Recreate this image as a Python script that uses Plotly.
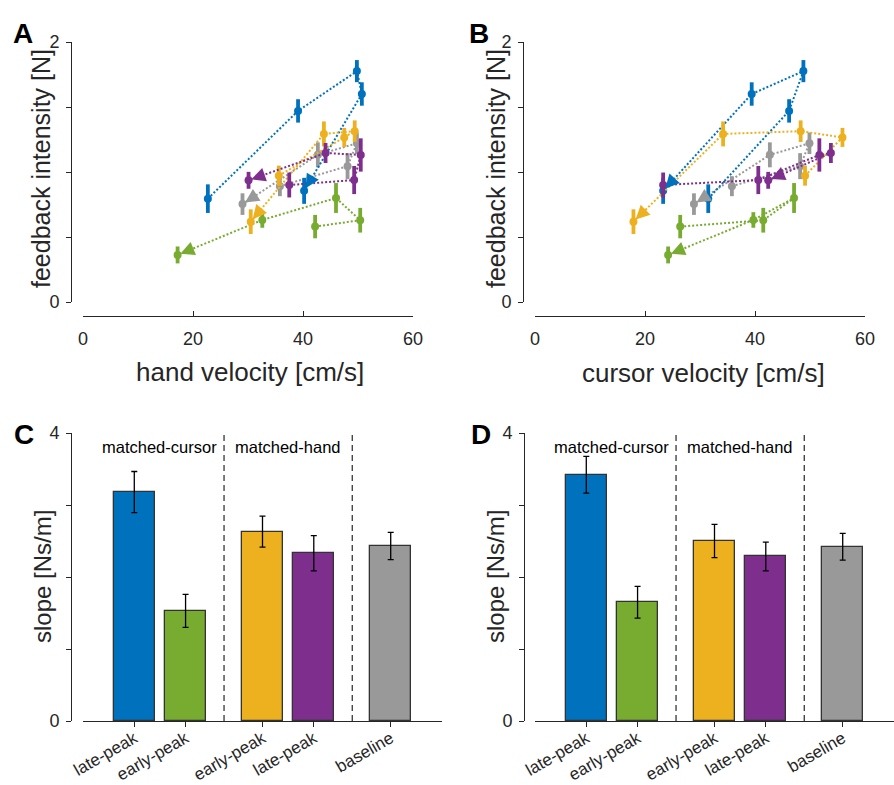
import numpy as np
import plotly.graph_objects as go

W, H = 894, 785
FONT = "Liberation Sans, Arial, Helvetica, sans-serif"
INK = "#262626"

# ---------------- data: trajectories (ordered; arrow into the last point) ----------------
conditions = ["gray", "blue", "green", "yellow", "purple"]
colors = {"blue": "#0072BD", "green": "#77AC30", "yellow": "#EDB120",
          "purple": "#7E2F8E", "gray": "#999999"}

blue_force = [0.795, 1.470, 1.776, 1.600, 0.855]
blue_err = [0.110, 0.090, 0.085, 0.090, 0.100]
blue_hand = [22.7, 39.1, 49.8, 50.7, 40.2]
blue_cursor = [31.5, 46.2, 48.8, 39.4, 23.3]

green_force = [0.580, 0.629, 0.800, 0.631, 0.362]
green_err = [0.090, 0.095, 0.115, 0.060, 0.065]
green_hand = [42.2, 50.4, 46.0, 32.6, 17.2]
green_cursor = [26.4, 41.5, 47.1, 39.7, 24.2]

yellow_force = [0.972, 1.266, 1.314, 1.293, 0.618]
yellow_err = [0.077, 0.073, 0.083, 0.096, 0.095]
yellow_hand = [35.6, 47.5, 49.4, 43.8, 30.5]
yellow_cursor = [49.1, 55.9, 48.3, 34.2, 17.9]

gray_force = [0.891, 1.045, 1.221, 1.132, 0.753]
gray_err = [0.077, 0.100, 0.083, 0.096, 0.083]
gray_hand = [35.8, 48.1, 49.8, 42.7, 29.0]
gray_cursor = [35.8, 48.2, 49.9, 42.7, 28.9]

purple_force = [0.900, 0.938, 1.131, 1.146, 0.936]
purple_err = [0.096, 0.108, 0.128, 0.077, 0.065]
purple_hand = [37.5, 49.3, 50.5, 44.1, 30.1]
purple_cursor = [23.3, 40.6, 51.7, 53.8, 42.4]

traj = {
    "blue": (blue_force, blue_err, blue_hand, blue_cursor),
    "green": (green_force, green_err, green_hand, green_cursor),
    "yellow": (yellow_force, yellow_err, yellow_hand, yellow_cursor),
    "gray": (gray_force, gray_err, gray_hand, gray_cursor),
    "purple": (purple_force, purple_err, purple_hand, purple_cursor),
}

# ---------------- data: slopes ----------------
bar_labels = ["late-peak", "early-peak", "early-peak", "late-peak", "baseline"]
bar_colors = ["blue", "green", "yellow", "purple", "gray"]
slope_hand = [3.18, 1.53, 2.63, 2.33, 2.43]
slope_hand_err = [0.285, 0.230, 0.215, 0.245, 0.190]
slope_cursor = [3.42, 1.65, 2.50, 2.285, 2.42]
slope_cursor_err = [0.255, 0.220, 0.230, 0.200, 0.185]
group_names = ["matched-cursor", "matched-hand"]

# layout of bar slots (grouped with gaps)
bar_slots = [1, 2, 3.5, 4.5, 6]
group_dividers = [2.75, 5.25]
group_label_x = [1.5, 4.0]

# ---------------- geometry helpers (pixels -> paper) ----------------
def fx(p):
    return p / W

def fy(p):
    return 1 - p / H

fig = go.Figure()

axis_common = dict(showgrid=False, zeroline=False, showline=True, linecolor=INK,
                   linewidth=1, tickcolor=INK, tickwidth=1,
                   tickfont=dict(size=18, color=INK, family=FONT))

# scatter panels: (xaxis id, yaxis id, x-pixel left, x-pixel right, yaxis line px)
scatter_panels = [
    ("x", "y", 83, 413, 71),    # A: hand
    ("x2", "y2", 535, 865, 523),  # B: cursor
]
Y_TOP, Y_BOT, X_LINE = 42, 302, 316
XR, YR = (0, 60), (0, 2)

for pi, (xa, ya, xl, xr, yl) in enumerate(scatter_panels):
    sx = (xr - xl) / (XR[1] - XR[0])
    sy = (Y_BOT - Y_TOP) / (YR[1] - YR[0])
    for c in conditions:
        force, err, hand, cursor = traj[c]
        xs = hand if pi == 0 else cursor
        fig.add_trace(go.Scatter(
            x=xs, y=force, xaxis=xa, yaxis=ya, mode="lines+markers",
            line=dict(color=colors[c], width=2, dash="2px,2px"),
            marker=dict(color=colors[c], size=8, symbol="circle"),
            error_y=dict(type="data", array=err, color=colors[c], thickness=3.8, width=0),
            showlegend=False, hoverinfo="skip"))
        # arrowhead into the final point, oriented along last segment in pixel space
        dxp = (xs[-2] - xs[-1]) * sx
        dyp = -(force[-2] - force[-1]) * sy
        n = float(np.hypot(dxp, dyp))
        L = 14
        fig.add_annotation(x=xs[-1], y=force[-1], xref=xa, yref=ya,
                           ax=dxp / n * L, ay=dyp / n * L, axref="pixel", ayref="pixel",
                           showarrow=True, arrowhead=2, arrowsize=1.4, arrowwidth=2,
                           arrowcolor=colors[c], standoff=3, text="")

    xkey = "xaxis" if xa == "x" else "xaxis2"
    ykey = "yaxis" if ya == "y" else "yaxis2"
    fig.update_layout(**{
        xkey: dict(axis_common, domain=[fx(xl), fx(xr)], range=list(XR), anchor="free",
                   position=fy(X_LINE), ticks="inside", ticklen=5,
                   tickvals=[0, 20, 40, 60], ticklabelstandoff=6),
        ykey: dict(axis_common, domain=[fy(Y_BOT), fy(Y_TOP)], range=list(YR), anchor="free",
                   position=fx(yl), ticks="outside", ticklen=5, ticklabelstandoff=3,
                   tickvals=[0, 0.5, 1, 1.5, 2], ticktext=["0", "", "", "", "2"]),
    })

# bar panels
bar_panels = [
    ("x3", "y3", 83, 442, 71, slope_hand, slope_hand_err),
    ("x4", "y4", 535, 894, 524, slope_cursor, slope_cursor_err),
]
B_TOP, B_BOT = 433, 721
for xa, ya, xl, xr, yl, vals, errs in bar_panels:
    fig.add_trace(go.Bar(
        x=bar_slots, y=vals, width=0.8, xaxis=xa, yaxis=ya,
        marker=dict(color=[colors[c] for c in bar_colors], line=dict(color="#333333", width=1.3)),
        error_y=dict(type="data", array=errs, color="black", thickness=1.3, width=3),
        showlegend=False, hoverinfo="skip"))
    n = xa[1:]
    fig.update_layout(**{
        "xaxis" + n: dict(axis_common, domain=[fx(xl), fx(xr)], range=[0, 7], anchor=ya,
                          ticks="outside", ticklen=5, tickvals=bar_slots, ticktext=bar_labels,
                          tickangle=-30, ticklabelstandoff=-5,
                          tickfont=dict(size=17, color=INK, family=FONT)),
        "yaxis" + n: dict(axis_common, domain=[fy(B_BOT), fy(B_TOP)], range=[0, 4], anchor="free",
                          position=fx(yl), ticks="outside", ticklen=5, ticklabelstandoff=3,
                          tickvals=[0, 1, 2, 3, 4], ticktext=["0", "", "", "", "4"]),
    })
    for d in group_dividers:
        fig.add_shape(type="line", xref=xa, yref=ya, x0=d, x1=d, y0=0, y1=4,
                      line=dict(color=INK, width=1.2, dash="6px,4px"))
    for gx, gname in zip(group_label_x, group_names):
        fig.add_annotation(x=gx, y=3.81, xref=xa, yref=ya, text=gname, showarrow=False,
                           font=dict(size=16.5, color="black", family=FONT),
                           xanchor="center", yanchor="middle")

# titles
titles = [
    ("hand velocity [cm/s]", 250, 372, 0, 26),
    ("cursor velocity [cm/s]", 703, 373, 0, 26),
    ("feedback intensity [N]", 41, 169, -90, 25),
    ("feedback intensity [N]", 496, 169, -90, 25),
    ("slope [Ns/m]", 42, 577, -90, 24),
    ("slope [Ns/m]", 495, 577, -90, 24),
]
for t, x, y, ang, fs in titles:
    fig.add_annotation(x=fx(x), y=fy(y), xref="paper", yref="paper", text=t, showarrow=False,
                       textangle=ang, font=dict(size=fs, color=INK, family=FONT),
                       xanchor="center", yanchor="middle")

letters = [("A", 23, 34), ("B", 479, 34), ("C", 24, 434), ("D", 481, 434)]
for t, x, y in letters:
    fig.add_annotation(x=fx(x), y=fy(y), xref="paper", yref="paper", text="<b>%s</b>" % t,
                       showarrow=False, font=dict(size=28, color="black", family=FONT),
                       xanchor="center", yanchor="middle")

fig.update_layout(width=W, height=H, margin=dict(l=0, r=0, t=0, b=0),
                  paper_bgcolor="white", plot_bgcolor="white", template="none",
                  bargap=0, font=dict(family=FONT, color=INK))

fig.write_html("out.html")
